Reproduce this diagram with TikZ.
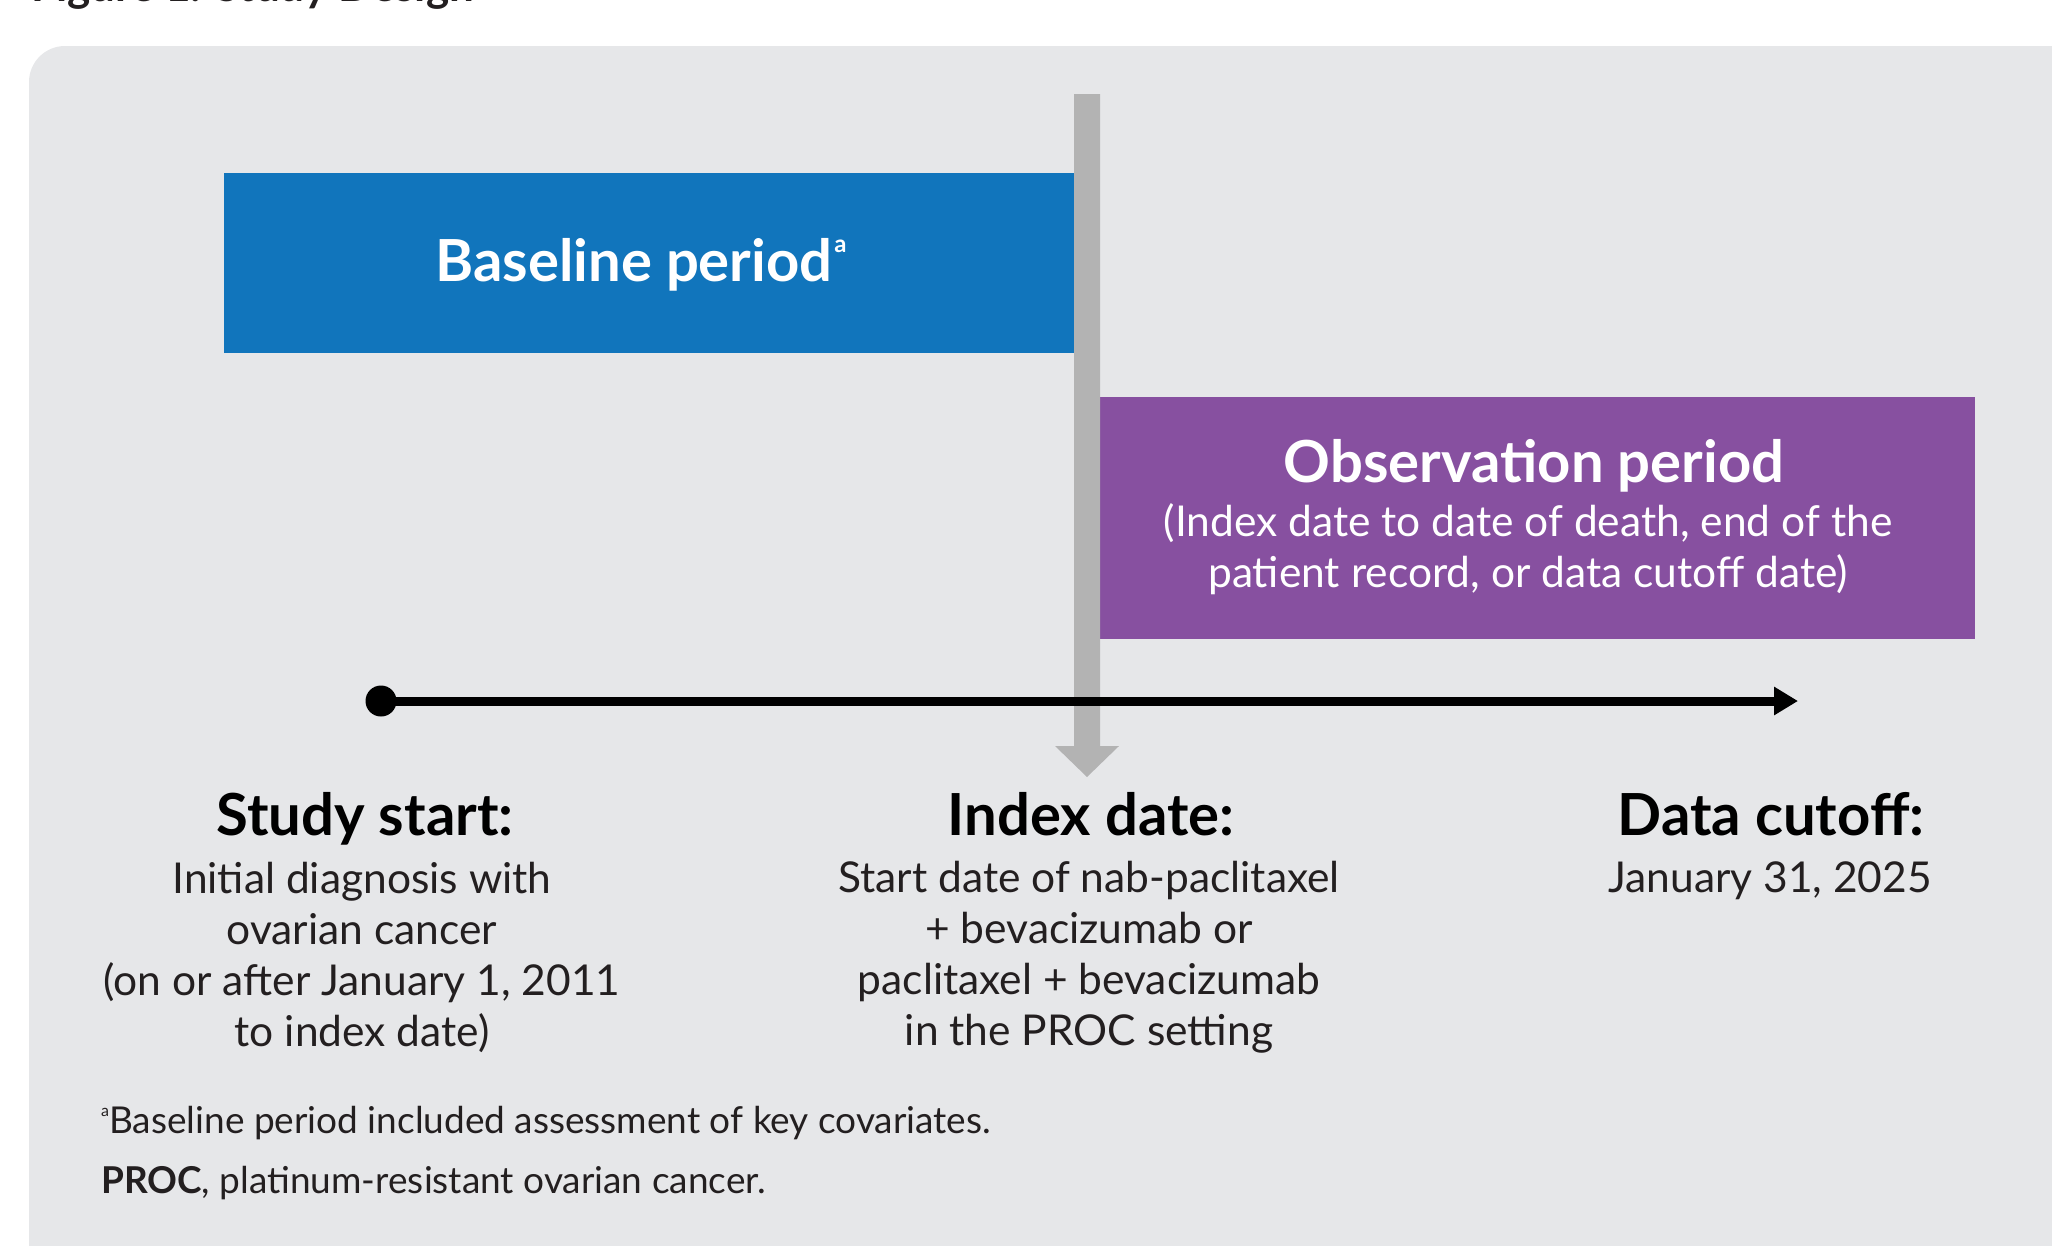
\documentclass[tikz,border=0pt]{standalone}
\usepackage{fontspec}
\setmainfont{Lato}
\usetikzlibrary{arrows.meta}
\definecolor{bgc}{HTML}{E6E7E9}
\definecolor{blu}{HTML}{1175BC}
\definecolor{pur}{HTML}{8750A0}
\definecolor{gbar}{HTML}{B3B3B3}
\definecolor{ink}{HTML}{231F20}
\begin{document}
\begin{tikzpicture}[x=1pt,y=-1pt,
  head/.style={font=\fontsize{58}{66}\selectfont\bfseries, text=black, inner sep=0pt, align=center, anchor=base},
  body/.style={font=\fontsize{42.5}{51}\selectfont, text=ink, inner sep=0pt, align=center},
  foot/.style={font=\fontsize{37}{44}\selectfont, text=ink, inner sep=0pt, anchor=base west}]
\useasboundingbox (0,0) rectangle (2052,1245);
\begin{scope}
  \clip (0,0) rectangle (2052,1245);
  \fill[bgc, rounded corners=36pt] (29,46) rectangle (2140,1300);
  \node[anchor=base west, inner sep=0pt, font=\fontsize{44}{50}\selectfont\bfseries, text=ink] (ttl) at (31,1) {Figure 1. Study Design};
\end{scope}
% periods
\fill[blu] (224,173) rectangle (1074,353);
\node[head, text=white] (base) at (641,281) {Baseline period\kern2pt\raisebox{28.5pt}{\fontsize{24}{24}\selectfont a}};
\fill[pur] (1099,397) rectangle (1975,639);
\node[head, text=white] (obs) at (1534,482) {Observation period};
\node[body, text=white] (obsd) at (1528,549) {(Index date to date of death, end of the\\patient record, or data cutoff date)};
% index bar
\fill[gbar] (1074,94) -- (1100,94) -- (1100,746) -- (1119,746) -- (1087,777) -- (1055,746) -- (1074,746) -- cycle;
% timeline
\node[circle, fill=black, minimum size=31pt, inner sep=0pt] (tstart) at (381,701) {};
\coordinate (tend) at (1798,701);
\draw[line width=9pt, -{Triangle[length=24pt,width=27pt]}] (tstart.center) -- (tend);
% labels
\node[head] (ss) at (365,835) {Study start:};
\node[body] (ssd) at (362,957) {Initial diagnosis with\\ovarian cancer\\(on or after January 1, 2011\\to index date)};
\node[head] (ix) at (1091,835) {Index date:};
\node[body] (ixd) at (1089,957) {Start date of nab-paclitaxel\\+ bevacizumab or\\paclitaxel + bevacizumab\\in the PROC setting};
\node[head] (dc) at (1771,835) {Data cutoff:};
\node[body] (dcd) at (1770,881) {January 31, 2025};
% footnotes
\node[foot] (fn1) at (101,1133) {\raisebox{17pt}{\fontsize{16}{16}\selectfont a}Baseline period included assessment of key covariates.};
\node[foot] (fn2) at (101,1193) {\textbf{PROC}, platinum-resistant ovarian cancer.};
\end{tikzpicture}
\end{document}
